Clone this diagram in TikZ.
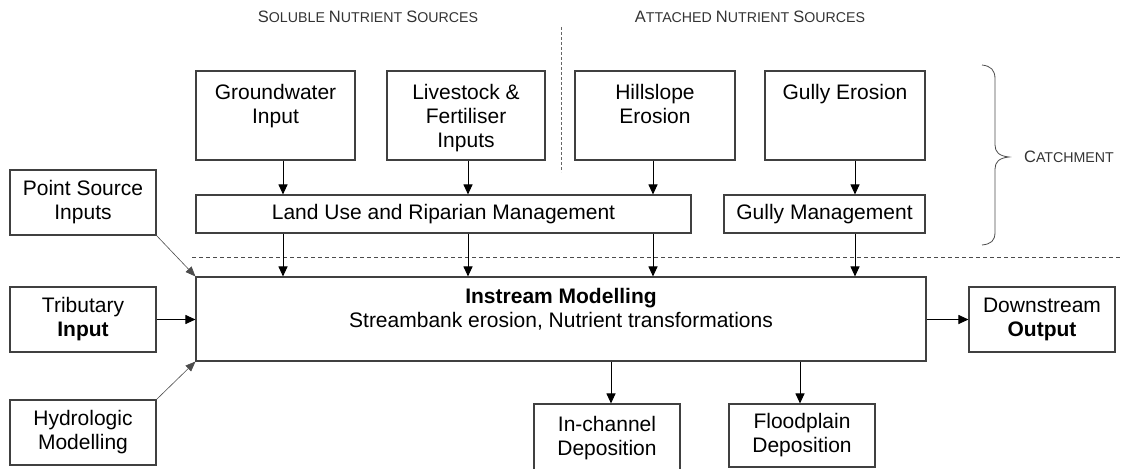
\documentclass[tikz,border=0pt]{standalone}
\usepackage{fontspec}
\setmainfont{Liberation Sans}
\usetikzlibrary{arrows.meta}
% faux small capitals: first letter large, the rest smaller
\newcommand\fsc[2]{{\fontsize{16.5}{16}\selectfont #1}{\fontsize{14.2}{16}\selectfont #2}}
% text hung from the top of a box: width, height, first baseline, text
\newcommand\hungtext[4]{\parbox[c][#2][t]{#1}{\centering\rule{0pt}{#3}#4}}
\begin{document}
\begin{tikzpicture}[x=1pt,y=-1pt,
  box/.style={draw=black!75, line width=1.1pt, inner sep=0pt, align=center,
    font=\fontsize{21}{24}\selectfont},
  arr/.style={draw=black, line width=1pt, -{Triangle[length=10pt,width=9pt]}},
  slantarr/.style={draw=black!70, line width=0.6pt, -{Triangle[length=10pt,width=8pt]}},
  divider/.style={draw=black!70, line width=0.8pt, dash pattern=on 4pt off 3pt},
  hdr/.style={text=black!80, inner sep=0pt, font=\fontsize{14.2}{16}\selectfont}]
\useasboundingbox (0,0) rectangle (1123,468);

% section headings
\node[hdr] (sol) at (368,17) {\fsc{S}{OLUBLE} \fsc{N}{UTRIENT} \fsc{S}{OURCES}};
\node[hdr] (att) at (750,17) {\fsc{A}{TTACHED} \fsc{N}{UTRIENT} \fsc{S}{OURCES}};
\draw[draw=black!60, line width=0.8pt, dash pattern=on 3pt off 2pt] (561,27) -- (561,172);

% nutrient sources
\node[box, minimum width=159pt, minimum height=89pt] (gw) at (275.5,115.5)
  {\hungtext{159pt}{89pt}{28.5pt}{Groundwater\\Input}};
\node[box, minimum width=158pt, minimum height=89pt] (ls) at (466,115.5)
  {\hungtext{158pt}{89pt}{28.5pt}{Livestock \&\\Fertiliser\\Inputs}};
\node[box, minimum width=160pt, minimum height=89pt] (hs) at (655,115.5)
  {\hungtext{160pt}{89pt}{28.5pt}{Hillslope\\Erosion}};
\node[box, minimum width=160pt, minimum height=89pt] (ge) at (845,115.5)
  {\hungtext{160pt}{89pt}{28.5pt}{Gully Erosion}};

% management layer
\node[box, minimum width=495pt, minimum height=38pt] (lu) at (443.5,214) {Land Use and Riparian Management};
\node[box, minimum width=201pt, minimum height=38pt] (gm) at (824.5,214) {Gully Management};

% catchment brace
\draw[draw=black!70, line width=0.8pt]
  (982,65) .. controls (991,66) and (995,70) .. (995,79) -- (995,145)
  .. controls (995,152) and (999,156) .. (1009,157)
  .. controls (999,158) and (995,162) .. (995,169) -- (995,232)
  .. controls (995,241) and (991,244) .. (982,245);
\node[hdr] (catch) at (1069,157) {\fsc{C}{ATCHMENT}};

% boundary between catchment and stream
\draw[divider] (192,257) -- (1123,257);

% side inputs
\node[box, minimum width=146pt, minimum height=65pt] (ps) at (83,202.5) {Point Source\\Inputs};
\node[box, minimum width=146pt, minimum height=65pt] (trib) at (83,319.5) {Tributary\\\textbf{Input}};
\node[box, minimum width=146pt, minimum height=65pt] (hyd) at (83,432.5) {Hydrologic\\Modelling};

% instream model and its outputs
\node[box, minimum width=730pt, minimum height=84pt] (ins) at (561,319)
  {\hungtext{730pt}{84pt}{26.5pt}{\textbf{Instream Modelling}\\Streambank erosion, Nutrient transformations}};
\node[box, minimum width=146pt, minimum height=65pt] (ds) at (1042,319.5) {Downstream\\\textbf{Output}};
\node[box, minimum width=146pt, minimum height=68pt] (ic) at (607,438) {In-channel\\Deposition};
\node[box, minimum width=146pt, minimum height=63pt] (fp) at (802,435.5) {Floodplain\\Deposition};

% arrow columns
\coordinate (k1) at (283,0);
\coordinate (k2) at (468,0);
\coordinate (k3) at (653,0);
\coordinate (k4) at (855,0);
\coordinate (k5) at (611,0);
\coordinate (k6) at (800,0);

\draw[arr] (gw.south -| k1) -- (lu.north -| k1);
\draw[arr] (ls.south -| k2) -- (lu.north -| k2);
\draw[arr] (hs.south -| k3) -- (lu.north -| k3);
\draw[arr] (ge.south -| k4) -- (gm.north -| k4);
\draw[arr] (lu.south -| k1) -- (ins.north -| k1);
\draw[arr] (lu.south -| k2) -- (ins.north -| k2);
\draw[arr] (lu.south -| k3) -- (ins.north -| k3);
\draw[arr] (gm.south -| k4) -- (ins.north -| k4);
\draw[arr] (trib.east) -- (trib.east -| ins.west);
\draw[arr] (ds.west -| ins.east) -- (ds.west);
\draw[arr] (ins.south -| k5) -- (ic.north -| k5);
\draw[arr] (ins.south -| k6) -- (fp.north -| k6);
\draw[slantarr] (ps.south east) -- (ins.north west);
\draw[slantarr] (hyd.north east) -- (ins.south west);
\end{tikzpicture}
\end{document}
